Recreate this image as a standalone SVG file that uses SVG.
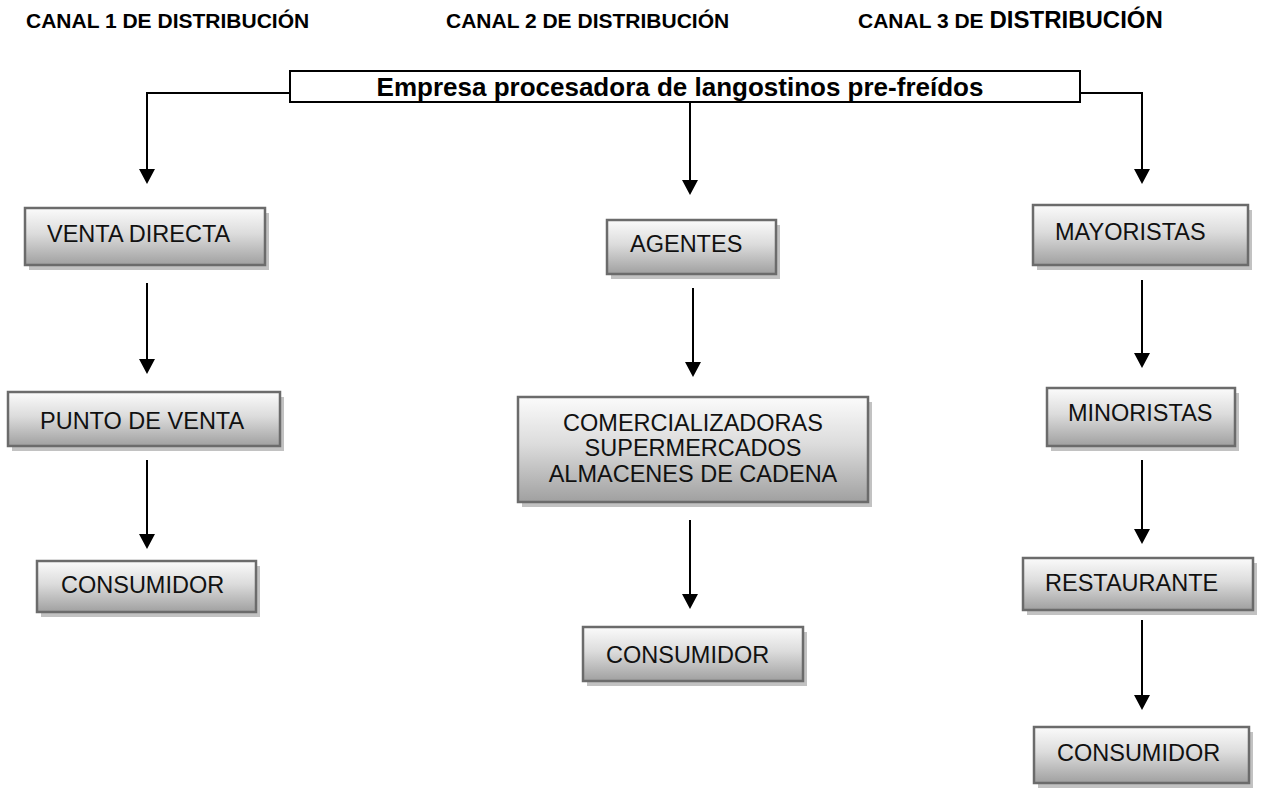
<svg xmlns="http://www.w3.org/2000/svg" width="1266" height="789" viewBox="0 0 1266 789">
<defs>
<linearGradient id="g" x1="0" y1="0" x2="0" y2="1">
<stop offset="0" stop-color="#fbfbfb"/>
<stop offset="0.45" stop-color="#dcdcdc"/>
<stop offset="1" stop-color="#a0a0a0"/>
</linearGradient>
<marker id="arr" markerUnits="userSpaceOnUse" markerWidth="16" markerHeight="16" refX="13" refY="8" orient="auto">
<path d="M0,0 L15,8 L0,16 z" fill="#000"/>
</marker>
<style>
.sh{fill:#c2c2c2}
.bx{fill:url(#g);stroke:#6b6b6b;stroke-width:2.5}
.t{font-family:"Liberation Sans",Arial,sans-serif;font-size:23.5px;fill:#111}
.h{font-family:"Liberation Sans",Arial,sans-serif;font-weight:bold;font-size:21px;fill:#000}
.c{stroke:#000;stroke-width:2;fill:none;marker-end:url(#arr)}
</style>
</defs>
<rect width="1266" height="789" fill="#fff"/>
<g id="headers">
<text class="h" x="26" y="28">CANAL 1 DE DISTRIBUCIÓN</text>
<text class="h" x="446" y="28">CANAL 2 DE DISTRIBUCIÓN</text>
<text class="h" x="858" y="28">CANAL 3 DE <tspan font-size="24">DISTRIBUCIÓN</tspan></text>
</g>
<g id="connectors">
<path class="c" d="M290,93 H147 V182"/>
<path class="c" d="M147,283 V372"/>
<path class="c" d="M147,460 V547"/>
<path class="c" d="M690,102 V193"/>
<path class="c" d="M693,288 V375"/>
<path class="c" d="M690,520 V607"/>
<path class="c" d="M1080,93 H1142 V182"/>
<path class="c" d="M1142,280 V366"/>
<path class="c" d="M1142,460 V542"/>
<path class="c" d="M1142,620 V708"/>
</g>
<g id="empresa">
<rect x="290" y="71" width="790" height="31" fill="#fff" stroke="#000" stroke-width="2"/>
<text x="680" y="96" text-anchor="middle" font-family="Liberation Sans, Arial, sans-serif" font-weight="bold" font-size="26">Empresa procesadora de langostinos pre-freídos</text>
</g>
<g id="venta-directa">
<rect class="sh" x="29" y="213" width="240" height="57"/>
<rect class="bx" x="25" y="208" width="240" height="57"/>
<text class="t" x="47" y="242">VENTA DIRECTA</text>
</g>
<g id="punto-de-venta">
<rect class="sh" x="12" y="397" width="272" height="54"/>
<rect class="bx" x="8" y="392" width="272" height="54"/>
<text class="t" x="40" y="429">PUNTO DE VENTA</text>
</g>
<g id="consumidor-1">
<rect class="sh" x="41" y="566" width="219" height="51"/>
<rect class="bx" x="37" y="561" width="219" height="51"/>
<text class="t" x="61" y="593">CONSUMIDOR</text>
</g>
<g id="agentes">
<rect class="sh" x="611" y="225" width="169" height="54"/>
<rect class="bx" x="607" y="220" width="169" height="54"/>
<text class="t" x="630" y="252">AGENTES</text>
</g>
<g id="comercializadoras">
<rect class="sh" x="522" y="402" width="350" height="105"/>
<rect class="bx" x="518" y="397" width="350" height="105"/>
<text class="t" x="693" y="431" text-anchor="middle">COMERCIALIZADORAS</text>
<text class="t" x="693" y="456" text-anchor="middle">SUPERMERCADOS</text>
<text class="t" x="693" y="482" text-anchor="middle">ALMACENES DE CADENA</text>
</g>
<g id="consumidor-2">
<rect class="sh" x="587" y="632" width="220" height="54"/>
<rect class="bx" x="583" y="627" width="220" height="54"/>
<text class="t" x="606" y="663">CONSUMIDOR</text>
</g>
<g id="mayoristas">
<rect class="sh" x="1037" y="210" width="215" height="60"/>
<rect class="bx" x="1033" y="205" width="215" height="60"/>
<text class="t" x="1055" y="240">MAYORISTAS</text>
</g>
<g id="minoristas">
<rect class="sh" x="1051" y="393" width="188" height="58"/>
<rect class="bx" x="1047" y="388" width="188" height="58"/>
<text class="t" x="1068" y="421">MINORISTAS</text>
</g>
<g id="restaurante">
<rect class="sh" x="1027" y="563" width="230" height="52"/>
<rect class="bx" x="1023" y="558" width="230" height="52"/>
<text class="t" x="1045" y="591">RESTAURANTE</text>
</g>
<g id="consumidor-3">
<rect class="sh" x="1038" y="732" width="215" height="56"/>
<rect class="bx" x="1034" y="727" width="215" height="56"/>
<text class="t" x="1057" y="761">CONSUMIDOR</text>
</g>
</svg>
